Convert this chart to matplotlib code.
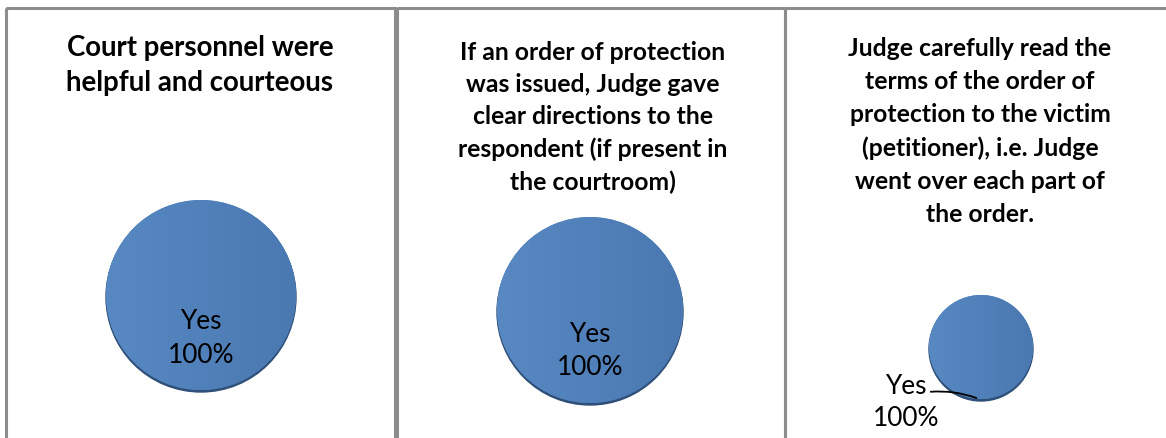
import numpy as np
import matplotlib.pyplot as plt
from matplotlib.colors import LinearSegmentedColormap
from matplotlib.patches import Circle, Rectangle

# survey questions and responses
titles = [
    "Court personnel were\nhelpful and courteous",
    "If an order of protection\nwas issued, Judge gave\nclear directions to the\nrespondent (if present in\nthe courtroom)",
    "Judge carefully read the\nterms of the order of\nprotection to the victim\n(petitioner), i.e. Judge\nwent over each part of\nthe order.",
]
answers = ["Yes", "Yes", "Yes"]
shares = [100, 100, 100]

W, H = 1166, 438
fig = plt.figure(figsize=(W / 100, H / 100), dpi=100)
ax = fig.add_axes([0, 0, 1, 1])

# panel frames (pixel boxes: left, right)
panels = [(6, 395), (397, 785), (785, 1180)]
# pie centres / radii in pixels
pies = [((201, 295), 95), ((590, 310), 93), ((981, 347), 52)]
title_y = [35, 41.5, 36.5]
title_size = [19.9, 17.8, 17.8]
title_ls = [1.41, 1.47, 1.53]
title_x = [200, 593, 980]

base = "#4f81bd"
frame_col = "#8c8c8c"
shade = LinearSegmentedColormap.from_list("pie", ["#5889c3", "#4a78b1"])

for x0, x1 in panels:
    ax.add_patch(Rectangle((x0, 8), x1 - x0, H, fill=False,
                           edgecolor=frame_col, lw=2.2))

for i in range(3):
    (cx, cy), r = pies[i]
    # dark rim underneath
    ax.add_patch(Circle((cx, cy + 2), r, color="#2e4f78", zorder=2))
    wedges, _ = ax.pie([shares[i]], center=(cx, cy), radius=r,
                       colors=[base], startangle=90,
                       wedgeprops=dict(linewidth=0, zorder=3))
    # soft left-to-right shading
    grad = np.linspace(0, 1, 256).reshape(1, -1)
    im = ax.imshow(grad, cmap=shade, extent=(cx - r, cx + r, cy + r, cy - r),
                   aspect="auto", zorder=4)
    im.set_clip_path(wedges[0])

    ax.text(title_x[i], title_y[i], titles[i], ha="center", va="top",
            fontsize=title_size[i], fontweight="bold", family="Lato",
            linespacing=title_ls[i], color="#000000", zorder=6)

    label = f"{answers[i]}\n{shares[i]}%"
    if i < 2:
        ax.text(cx, cy + [43.5, 41][i], label, ha="center", va="center",
                fontsize=18.9, family="Lato", linespacing=1.42, zorder=6)
    else:
        ax.text(906, 402, label, ha="center", va="center", fontsize=18.9,
                family="Lato", linespacing=1.35, zorder=6)
        ax.annotate("", xy=(cx - 2, cy + r), xytext=(928, 392),
                    arrowprops=dict(arrowstyle="-", color="black", lw=1.3,
                                    connectionstyle="arc3,rad=-0.12"),
                    zorder=6)

ax.set_xlim(0, W)
ax.set_ylim(H, 0)
ax.set_aspect("auto")
ax.axis("off")

fig.savefig("out.png", dpi=100)
